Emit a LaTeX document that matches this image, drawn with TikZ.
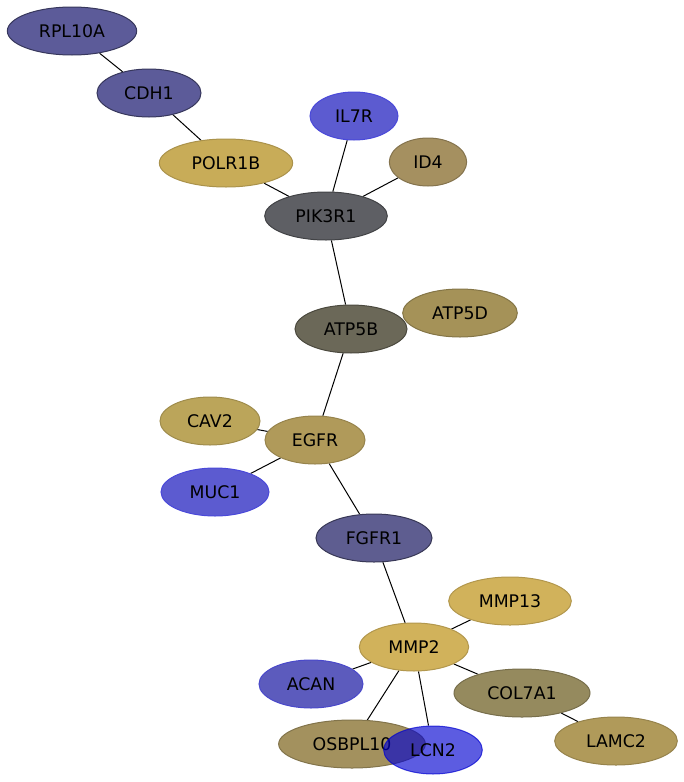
\documentclass[tikz,border=0pt]{standalone}
\usepackage{fontspec}
\setmainfont{DejaVu Sans}
\usetikzlibrary{shapes.geometric,backgrounds}
\definecolor{slateA}{HTML}{5C5B99}
\definecolor{slateB}{HTML}{5E5D90}
\definecolor{blueA}{HTML}{5C5BD0}
\definecolor{blueB}{HTML}{5C5BBD}
\definecolor{blueC}{HTML}{0000D0}
\definecolor{goldA}{HTML}{C8AC58}
\definecolor{goldB}{HTML}{D1B25B}
\definecolor{goldC}{HTML}{BBA55A}
\definecolor{khakiA}{HTML}{A59060}
\definecolor{khakiB}{HTML}{A59258}
\definecolor{khakiC}{HTML}{B09A5A}
\definecolor{khakiD}{HTML}{958A5E}
\definecolor{khakiE}{HTML}{A3915E}
\definecolor{greyA}{HTML}{5E5F64}
\definecolor{greyB}{HTML}{6B6858}

\begin{document}
\begin{tikzpicture}
    [x=0.75pt, y=-0.75pt,
     gene/.style={draw, ellipse, inner sep=0pt, minimum height=36pt,
       line width=0.75pt, font=\fontsize{13}{15}\selectfont},
     link/.style={draw, line width=0.75pt}]
    \useasboundingbox (0,0) rectangle (684,782);

    \node (rpl) [gene, fill=slateA, draw=slateA!60!black, minimum width=97pt] at (72,31) {RPL10A};
    \node (cdh) [gene, fill=slateA, draw=slateA!60!black, minimum width=78pt] at (149,93) {CDH1};
    \node (polr) [gene, fill=goldA, draw=goldA!85!black, minimum width=100pt] at (226,163) {POLR1B};
    \node (il7r) [gene, fill=blueA, draw=blueA!80!blue, minimum width=66pt] at (354,116) {IL7R};
    \node (id4) [gene, fill=khakiA, draw=khakiA!80!black, minimum width=58pt] at (428,162) {ID4};
    \node (pik) [gene, fill=greyA, draw=greyA!70!black, minimum width=92pt] at (326,216) {PIK3R1};
    \node (atpb) [gene, fill=greyB, draw=greyB!70!black, minimum width=84pt] at (351,329) {ATP5B};
    \node (atpd) [gene, fill=khakiB, draw=khakiB!80!black, minimum width=86pt] at (460,313) {ATP5D};
    \node (cav) [gene, fill=goldC, draw=goldC!85!black, minimum width=75pt] at (210,421) {CAV2};
    \node (egfr) [gene, fill=khakiC, draw=khakiC!85!black, minimum width=75pt] at (315,440) {EGFR};
    \node (muc) [gene, fill=blueA, draw=blueA!80!blue, minimum width=81pt] at (215,492) {MUC1};
    \node (fgfr) [gene, fill=slateB, draw=slateB!60!black, minimum width=87pt] at (374,538) {FGFR1};
    \node (mmpt) [gene, fill=goldB, draw=goldB!85!black, minimum width=92pt] at (510,601) {MMP13};
    \node (mmp) [gene, fill=goldB, draw=goldB!85!black, minimum width=82pt] at (414,647) {MMP2};
    \node (acan) [gene, fill=blueB, draw=blueB!80!blue, minimum width=78pt] at (311,684) {ACAN};
    \node (col) [gene, fill=khakiD, draw=khakiD!80!black, minimum width=102pt] at (522,693) {COL7A1};
    \node (lamc) [gene, fill=khakiC, draw=khakiC!85!black, minimum width=92pt] at (616,741) {LAMC2};
    \node (osb) [gene, fill=khakiE, draw=khakiE!80!black, minimum width=110pt] at (352,744) {OSBPL10};
    \node (lcn) [gene, fill=blueC, draw=blueC, fill opacity=0.64, draw opacity=0.7, text opacity=1, minimum width=74pt] at (433,750) {LCN2};

    \begin{scope}[on background layer]
    \draw[link] (rpl) -- (cdh);
    \draw[link] (cdh) -- (polr);
    \draw[link] (polr) -- (pik);
    \draw[link] (il7r) -- (pik);
    \draw[link] (id4) -- (pik);
    \draw[link] (pik) -- (atpb);
    \draw[link] (atpb) -- (egfr);
    \draw[link] (cav) -- (egfr);
    \draw[link] (muc) -- (egfr);
    \draw[link] (egfr) -- (fgfr);
    \draw[link] (fgfr) -- (mmp);
    \draw[link] (mmpt) -- (mmp);
    \draw[link] (acan) -- (mmp);
    \draw[link] (col) -- (mmp);
    \draw[link] (col) -- (lamc);
    \draw[link] (osb) -- (mmp);
    \draw[link] (lcn) -- (mmp);
    \end{scope}

  \end{tikzpicture}
\end{document}
